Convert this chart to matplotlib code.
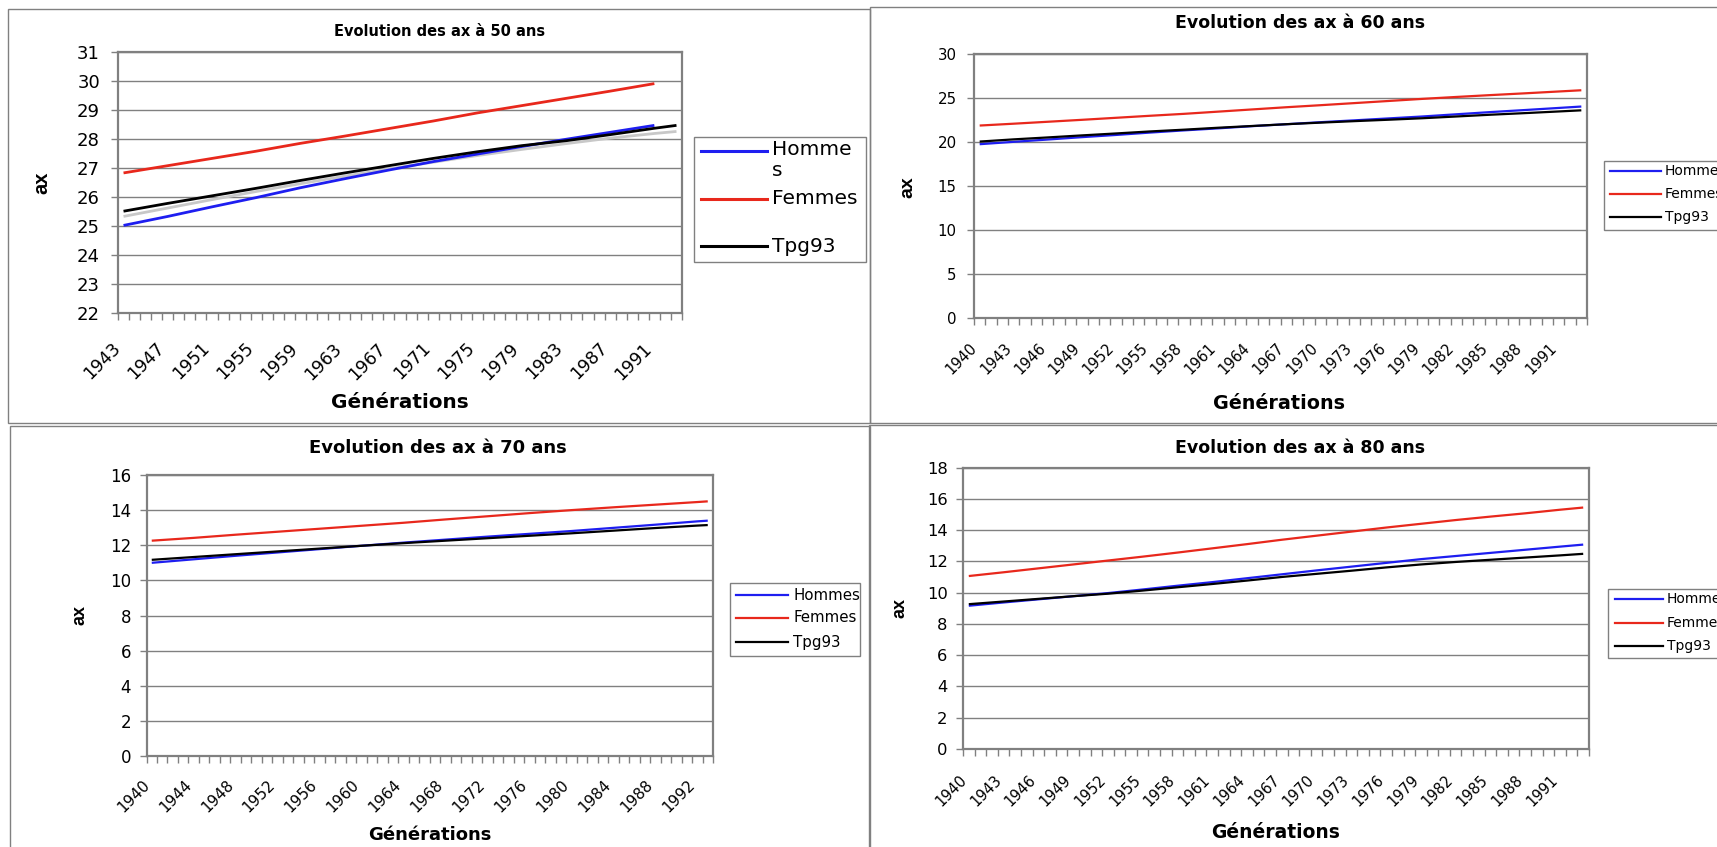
import matplotlib
matplotlib.use("Agg")
import matplotlib.pyplot as plt
import matplotlib.transforms as mtransforms
from matplotlib.lines import Line2D
from matplotlib.patches import Rectangle
import numpy as np

# ---------------- data ----------------
series_names = ["Hommes", "Femmes", "Tpg93"]

# age 50
years50 = [1943, 1947, 1951, 1955, 1959, 1963, 1967, 1971, 1975, 1979, 1983, 1987, 1991]
hommes50 = [25.02, 25.33, 25.66, 25.98, 26.32, 26.63, 26.93, 27.22, 27.48, 27.74, 27.99, 28.23, 28.47]
femmes50 = [26.83, 27.08, 27.33, 27.58, 27.85, 28.10, 28.36, 28.62, 28.90, 29.15, 29.40, 29.65, 29.91]
years50_tpg = [1943, 1947, 1951, 1955, 1959, 1963, 1967, 1971, 1975, 1979, 1983, 1987, 1991, 1993]
tpg50 = [25.51, 25.78, 26.04, 26.30, 26.57, 26.83, 27.08, 27.33, 27.56, 27.77, 27.94, 28.15, 28.37, 28.47]
gris50 = [25.33, 25.62, 25.91, 26.19, 26.46, 26.72, 26.97, 27.20, 27.43, 27.64, 27.84, 28.03, 28.19, 28.26]
labels50 = [1943, 1947, 1951, 1955, 1959, 1963, 1967, 1971, 1975, 1979, 1983, 1987, 1991]

# age 60
years60 = [1940, 1943, 1946, 1949, 1952, 1955, 1958, 1961, 1964, 1967, 1970, 1973, 1976, 1979, 1982, 1985, 1988, 1991, 1993]
hommes60 = [19.75, 20.02, 20.28, 20.55, 20.80, 21.07, 21.32, 21.55, 21.80, 22.02, 22.25, 22.46, 22.68, 22.90, 23.15, 23.40, 23.63, 23.87, 24.03]
femmes60 = [21.87, 22.08, 22.30, 22.52, 22.75, 22.98, 23.20, 23.45, 23.70, 23.95, 24.18, 24.42, 24.66, 24.90, 25.12, 25.33, 25.53, 25.74, 25.88]
tpg60 = [20.05, 20.30, 20.52, 20.75, 20.97, 21.20, 21.40, 21.62, 21.82, 22.02, 22.20, 22.37, 22.53, 22.70, 22.90, 23.10, 23.28, 23.47, 23.60]
labels60 = [1940, 1943, 1946, 1949, 1952, 1955, 1958, 1961, 1964, 1967, 1970, 1973, 1976, 1979, 1982, 1985, 1988, 1991]

# age 70
years70 = [1940, 1944, 1948, 1952, 1956, 1960, 1964, 1968, 1972, 1976, 1980, 1984, 1988, 1992, 1993]
hommes70 = [11.00, 11.20, 11.40, 11.59, 11.78, 11.97, 12.15, 12.32, 12.49, 12.65, 12.81, 12.99, 13.17, 13.36, 13.40]
femmes70 = [12.26, 12.42, 12.60, 12.77, 12.94, 13.11, 13.28, 13.47, 13.65, 13.83, 14.00, 14.16, 14.31, 14.46, 14.50]
tpg70 = [11.17, 11.33, 11.49, 11.65, 11.81, 11.97, 12.12, 12.26, 12.40, 12.54, 12.68, 12.83, 12.98, 13.12, 13.15]
labels70 = [1940, 1944, 1948, 1952, 1956, 1960, 1964, 1968, 1972, 1976, 1980, 1984, 1988, 1992]

# age 80
years80 = [1940, 1943, 1946, 1949, 1952, 1955, 1958, 1961, 1964, 1967, 1970, 1973, 1976, 1979, 1982, 1985, 1988, 1991, 1993]
hommes80 = [9.16, 9.37, 9.57, 9.77, 9.97, 10.20, 10.44, 10.67, 10.92, 11.17, 11.42, 11.66, 11.90, 12.14, 12.34, 12.54, 12.74, 12.94, 13.07]
femmes80 = [11.06, 11.30, 11.55, 11.80, 12.05, 12.30, 12.56, 12.83, 13.10, 13.38, 13.64, 13.90, 14.16, 14.40, 14.64, 14.86, 15.07, 15.30, 15.44]
tpg80 = [9.26, 9.43, 9.60, 9.77, 9.93, 10.13, 10.34, 10.55, 10.77, 11.00, 11.20, 11.40, 11.61, 11.80, 11.96, 12.10, 12.24, 12.38, 12.48]
labels80 = [1940, 1943, 1946, 1949, 1952, 1955, 1958, 1961, 1964, 1967, 1970, 1973, 1976, 1979, 1982, 1985, 1988, 1991]

# ---------------- figure ----------------
W, H, DPI = 1717, 847, 100
fig = plt.figure(figsize=(W / DPI, H / DPI), dpi=DPI)
fig.patch.set_facecolor("white")

BLUE = "#1e1ef0"
RED = "#e8281c"
BLACK = "#000000"
GRAY = "#808080"


def fx(x):
    return x / W


def fy(y):
    return 1 - y / H


def panel_border(x0, y0, x1, y1):
    fig.add_artist(Rectangle((fx(x0), fy(y1)), fx(x1) - fx(x0), fy(y0) - fy(y1),
                             transform=fig.transFigure, fill=False,
                             edgecolor=GRAY, lw=1.0))


def legend_box(box, handles_x, ys, text_x, labels, fs, lw):
    x0, y0, x1, y1 = box
    fig.add_artist(Rectangle((fx(x0), fy(y1)), fx(x1) - fx(x0), fy(y0) - fy(y1),
                             transform=fig.transFigure, facecolor="white",
                             edgecolor=GRAY, lw=1.0))
    for y, col in zip(ys, [BLUE, RED, BLACK]):
        fig.add_artist(Line2D([fx(handles_x[0]), fx(handles_x[1])], [fy(y), fy(y)],
                              transform=fig.transFigure, color=col, lw=lw))
    for y, lab in zip(ys, labels):
        fig.text(fx(text_x), fy(y), lab, fontsize=fs, va="center", ha="left")


def make_panel(rect, ylim, ystep, cat_range, label_years, lines, ytick_fs, ypad,
               xtick_fs, xpad, lw, xshift=-10):
    l, t, r, b = rect
    ax = fig.add_axes([fx(l), fy(b), fx(r) - fx(l), (b - t) / H])
    start, end = cat_range
    ax.set_xlim(start - 0.5, end + 0.5)
    ax.set_ylim(*ylim)
    ax.set_yticks(np.arange(ylim[0], ylim[1] + 0.001, ystep))
    ax.yaxis.grid(True, color=GRAY, lw=1.0)
    ax.set_axisbelow(True)
    for s in ax.spines.values():
        s.set_color(GRAY)
        s.set_linewidth(1.6)
    ax.tick_params(axis="y", direction="out", length=5, width=1, color=GRAY,
                   labelsize=ytick_fs, pad=ypad)
    ax.set_xticks(np.arange(start - 0.5, end + 1.0, 1.0), minor=True)
    ax.set_xticks(label_years)
    ax.set_xticklabels([str(v) for v in label_years], rotation=45, ha="right",
                       va="top", rotation_mode="anchor")
    ax.tick_params(axis="x", which="minor", direction="out", length=5, width=1,
                   color=GRAY)
    ax.tick_params(axis="x", which="major", length=0, labelsize=xtick_fs, pad=xpad)
    off = mtransforms.ScaledTranslation(xshift / DPI, 0, fig.dpi_scale_trans)
    for lab in ax.get_xticklabels():
        lab.set_transform(lab.get_transform() + off)
    for xs, ys, col in lines:
        ax.plot(xs, ys, color=col, lw=lw, solid_capstyle="butt")
    return ax


# panel borders
panel_border(8, 9, 870, 423)
panel_border(870, 7, 1730, 423)
panel_border(10, 426, 870, 860)
panel_border(869, 425, 1730, 860)

# ---- panel 50 ----
make_panel((118, 52, 682, 313), (22, 31), 1, (1943, 1993), labels50,
           [(years50_tpg, gris50, "#c8c8c8"),
            (years50, hommes50, BLUE),
            (years50, femmes50, RED),
            (years50_tpg, tpg50, BLACK)],
           13, 8, 12.5, 19, 2.0, xshift=-12)
fig.text(fx(440), fy(32), "Evolution des ax à 50 ans", fontsize=10.5,
         fontweight="bold", ha="center", va="center")
fig.text(fx(42), fy(183), "ax", fontsize=14.5, fontweight="bold", rotation=90,
         ha="center", va="center", family="Liberation Sans")
fig.text(fx(400), fy(402), "Générations", fontsize=14.4, fontweight="bold",
         ha="center", va="center")
legend_box((694, 137, 866, 262), (701, 767), [151, 199, 246], 772,
           ["", "Femmes", "Tpg93"], 14.5, 2.2)
fig.text(fx(772), fy(140), "Homme\ns", fontsize=14.5, va="top", ha="left",
         linespacing=1.15)

# ---- panel 60 ----
make_panel((974, 54, 1587, 318), (0, 30), 5, (1940, 1993), labels60,
           [(years60, hommes60, BLUE),
            (years60, femmes60, RED),
            (years60, tpg60, BLACK)],
           10.8, 7.5, 10.5, 16, 1.6)
fig.text(fx(1300), fy(23), "Evolution des ax à 60 ans", fontsize=12.5,
         fontweight="bold", ha="center", va="center")
fig.text(fx(908), fy(187), "ax", fontsize=14, fontweight="bold", rotation=90,
         ha="center", va="center", family="Liberation Sans")
fig.text(fx(1279), fy(403), "Générations", fontsize=13.8, fontweight="bold",
         ha="center", va="center")
legend_box((1604, 161, 1760, 230), (1610, 1661), [171, 194, 217], 1665,
           series_names, 10, 1.6)

# ---- panel 70 ----
make_panel((146.5, 475, 713, 756), (0, 16), 2, (1940, 1993), labels70,
           [(years70, hommes70, BLUE),
            (years70, femmes70, RED),
            (years70, tpg70, BLACK)],
           12, 6, 11, 15, 1.6)
fig.text(fx(438), fy(448), "Evolution des ax à 70 ans", fontsize=13,
         fontweight="bold", ha="center", va="center")
fig.text(fx(80), fy(615), "ax", fontsize=13, fontweight="bold", rotation=90,
         ha="center", va="center", family="Liberation Sans")
fig.text(fx(430), fy(835), "Générations", fontsize=13, fontweight="bold",
         ha="center", va="center")
legend_box((730, 583, 860, 656), (736, 788), [595, 618, 642], 793,
           series_names, 10.8, 1.6)

# ---- panel 80 ----
make_panel((963, 467.5, 1589, 749), (0, 18), 2, (1940, 1993), labels80,
           [(years80, hommes80, BLUE),
            (years80, femmes80, RED),
            (years80, tpg80, BLACK)],
           11.8, 6, 10.5, 17, 1.6)
fig.text(fx(1300), fy(448), "Evolution des ax à 80 ans", fontsize=12.5,
         fontweight="bold", ha="center", va="center")
fig.text(fx(900), fy(608), "ax", fontsize=13, fontweight="bold", rotation=90,
         ha="center", va="center", family="Liberation Sans")
fig.text(fx(1276), fy(832), "Générations", fontsize=13.5, fontweight="bold",
         ha="center", va="center")
legend_box((1608, 589, 1760, 658), (1615, 1663), [599, 623, 646], 1667,
           series_names, 10, 1.6)

fig.savefig("out.png", dpi=DPI, facecolor="white")
